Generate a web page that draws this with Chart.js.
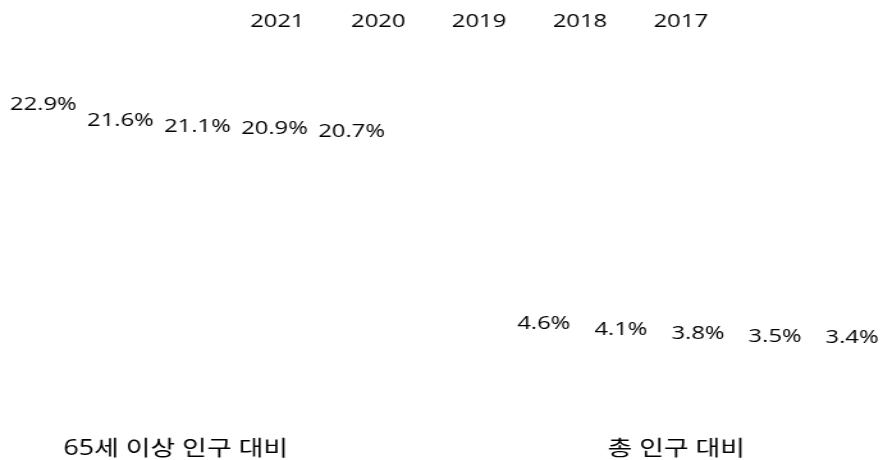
<!DOCTYPE html>
<html>
<head>
<meta charset="utf-8">
<script src="https://cdn.jsdelivr.net/npm/chart.js@4/dist/chart.umd.min.js"></script>
<style>
  html, body { margin: 0; padding: 0; background: #ffffff; overflow: hidden; }
  #c { display: block; width: 883px; height: 460px; }
</style>
</head>
<body>
<canvas id="c" width="690" height="460" style="width:883px;height:460px;"></canvas>
<script>
// ---- data ----
const categories = ['65세 이상 인구 대비', '총 인구 대비'];
const years = ['2021', '2020', '2019', '2018', '2017'];
const v2021 = [22.9, 4.6];
const v2020 = [21.6, 4.1];
const v2019 = [21.1, 3.8];
const v2018 = [20.9, 3.5];
const v2017 = [20.7, 3.4];
const seriesValues = [v2021, v2020, v2019, v2018, v2017];

const TEXT = '#000000';
const LATIN = "'Open Sans', 'Noto Sans CJK KR', sans-serif";

const valueLabels = {
  id: 'valueLabels',
  afterDatasetsDraw(chart) {
    const ctx = chart.ctx;
    ctx.save();
    ctx.font = "18.6px " + LATIN;
    ctx.fillStyle = TEXT;
    ctx.textAlign = 'center';
    ctx.textBaseline = 'alphabetic';
    chart.data.datasets.forEach((ds, i) => {
      const meta = chart.getDatasetMeta(i);
      meta.data.forEach((el, j) => {
        ctx.fillText(ds.data[j].toFixed(1) + '%', el.x, el.y - 3);
      });
    });
    ctx.restore();
  }
};

new Chart(document.getElementById('c'), {
  type: 'bar',
  data: {
    labels: categories,
    datasets: years.map((y, i) => ({
      label: y,
      data: seriesValues[i],
      backgroundColor: 'rgba(255,255,255,0)',
      borderColor: 'rgba(255,255,255,0)',
      borderWidth: 0,
      categoryPercentage: 0.77,
      barPercentage: 1.0
    }))
  },
  options: {
    responsive: false,
    devicePixelRatio: 1,
    animation: false,
    layout: { padding: { left: 34.4, right: 0, top: 0, bottom: 0 } },
    plugins: {
      legend: {
        display: true,
        position: 'top',
        align: 'center',
        labels: {
          boxWidth: 15,
          boxHeight: 18,
          padding: 12,
          color: TEXT,
          font: { size: 18.6, family: LATIN }
        }
      },
      tooltip: { enabled: false },
      title: { display: false }
    },
    scales: {
      x: {
        type: 'category',
        offset: false,
        grid: { display: false, drawTicks: false },
        border: { display: false },
        ticks: {
          padding: 49,
          labelOffset: -17,
          autoSkip: false,
          maxRotation: 0,
          color: TEXT,
          font: { size: 21, family: LATIN }
        },
        afterFit(s) { s.height = 73; }
      },
      y: {
        type: 'linear',
        position: 'left',
        min: 0,
        max: 29,
        grid: { display: false, drawTicks: false },
        border: { display: false },
        ticks: { display: false },
        afterFit(s) { s.width = 119.9; }
      },
      yRight: {
        type: 'linear',
        position: 'right',
        min: 0,
        max: 29,
        grid: { display: false, drawTicks: false },
        border: { display: false },
        ticks: { display: false },
        afterFit(s) { s.width = 144.6; }
      }
    }
  },
  plugins: [valueLabels]
});
</script>
</body>
</html>
